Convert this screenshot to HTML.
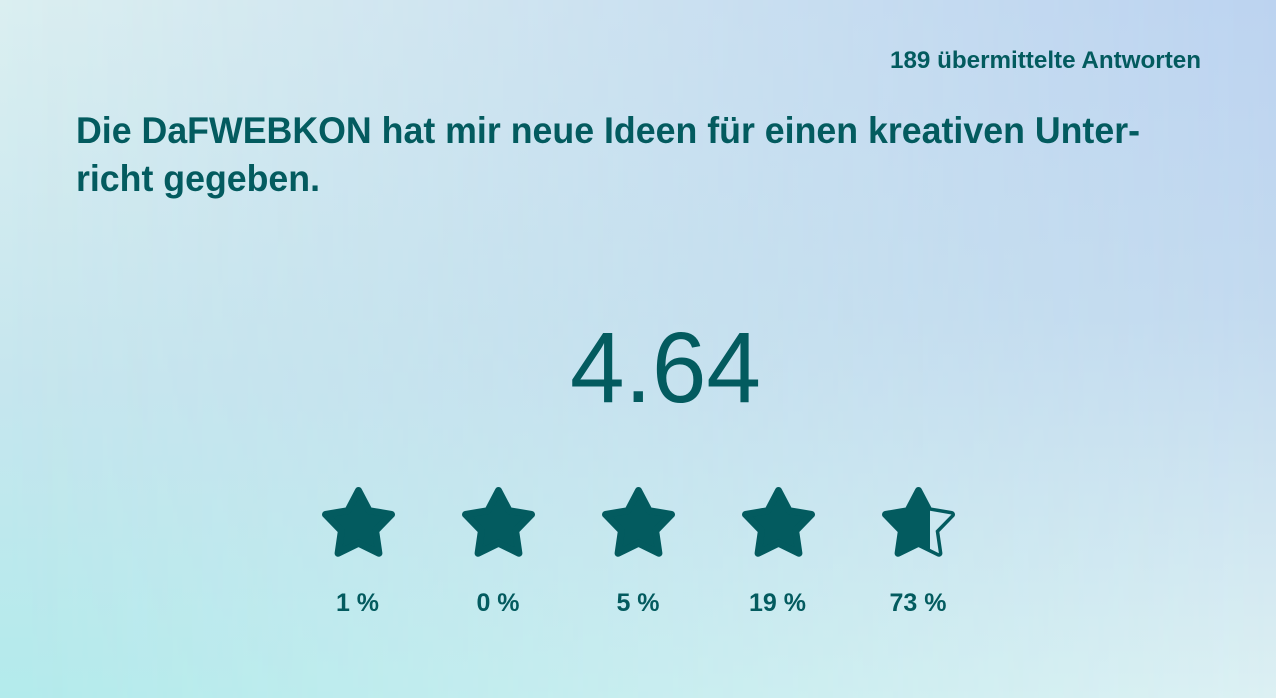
<!DOCTYPE html>
<html>
<head>
<meta charset="utf-8">
<style>
  html, body { margin:0; padding:0; }
  body { width:1276px; height:698px; overflow:hidden; position:relative; }
  .bg1 { position:absolute; left:0; top:0; width:1276px; height:698px;
         background: linear-gradient(to bottom, #dbeff1 0%, #c6e6ee 55%, #b3ebec 100%); }
  .bg2 { position:absolute; left:0; top:0; width:1276px; height:698px;
         background: linear-gradient(to bottom, #bcd3f0 0%, #c3daef 45%, #dcf0f3 100%);
         -webkit-mask-image: linear-gradient(to right, rgba(0,0,0,0) 0%, rgba(0,0,0,1) 100%);
         mask-image: linear-gradient(to right, rgba(0,0,0,0) 0%, rgba(0,0,0,1) 100%); }
  svg { position:absolute; left:0; top:0; }
  text { font-family: "Liberation Sans", sans-serif; fill:#035b5f; }
</style>
</head>
<body>
<div class="bg1"></div>
<div class="bg2"></div>
<svg width="1276" height="698" viewBox="0 0 1276 698" xmlns="http://www.w3.org/2000/svg">
  <defs>
    <polygon id="star" points="0,-34.7 10.58,-14.56 33.00,-10.72 17.12,5.56 20.40,28.07 0,18 -20.40,28.07 -17.12,5.56 -33.00,-10.72 -10.58,-14.56"/>
    <clipPath id="rightcut">
      <rect x="11.5" y="-50" width="60" height="100"/>
    </clipPath>
    <mask id="halfmask" maskUnits="userSpaceOnUse" x="-60" y="-60" width="120" height="120">
      <use href="#star" fill="#fff" stroke="#fff" stroke-width="7" stroke-linejoin="round"/>
      <g clip-path="url(#rightcut)">
        <use href="#star" fill="#000"/>
      </g>
    </mask>
  </defs>

  <text x="890" y="68" font-size="24" font-weight="bold" textLength="311" lengthAdjust="spacingAndGlyphs">189 übermittelte Antworten</text>

  <text x="76" y="143" font-size="37" font-weight="bold" textLength="1064" lengthAdjust="spacingAndGlyphs">Die DaFWEBKON hat mir neue Ideen für einen kreativen Unter-</text>
  <text x="76" y="191" font-size="37" font-weight="bold" textLength="244" lengthAdjust="spacingAndGlyphs">richt gegeben.</text>

  <text x="570" y="402" font-size="100" textLength="191" lengthAdjust="spacingAndGlyphs">4.64</text>

  <g fill="#035b5f" stroke="#035b5f" stroke-width="7" stroke-linejoin="round">
    <use href="#star" transform="translate(358.5,525.2)"/>
    <use href="#star" transform="translate(498.5,525.2)"/>
    <use href="#star" transform="translate(638.5,525.2)"/>
    <use href="#star" transform="translate(778.5,525.2)"/>
  </g>
  <g transform="translate(918.5,525.2)">
    <rect x="-60" y="-60" width="120" height="120" fill="#035b5f" mask="url(#halfmask)"/>
  </g>

  <g font-size="25" font-weight="bold" text-anchor="middle">
    <text x="357.5" y="611">1 %</text>
    <text x="498" y="611">0 %</text>
    <text x="638" y="611">5 %</text>
    <text x="777.5" y="611">19 %</text>
    <text x="918" y="611">73 %</text>
  </g>
</svg>
</body>
</html>
